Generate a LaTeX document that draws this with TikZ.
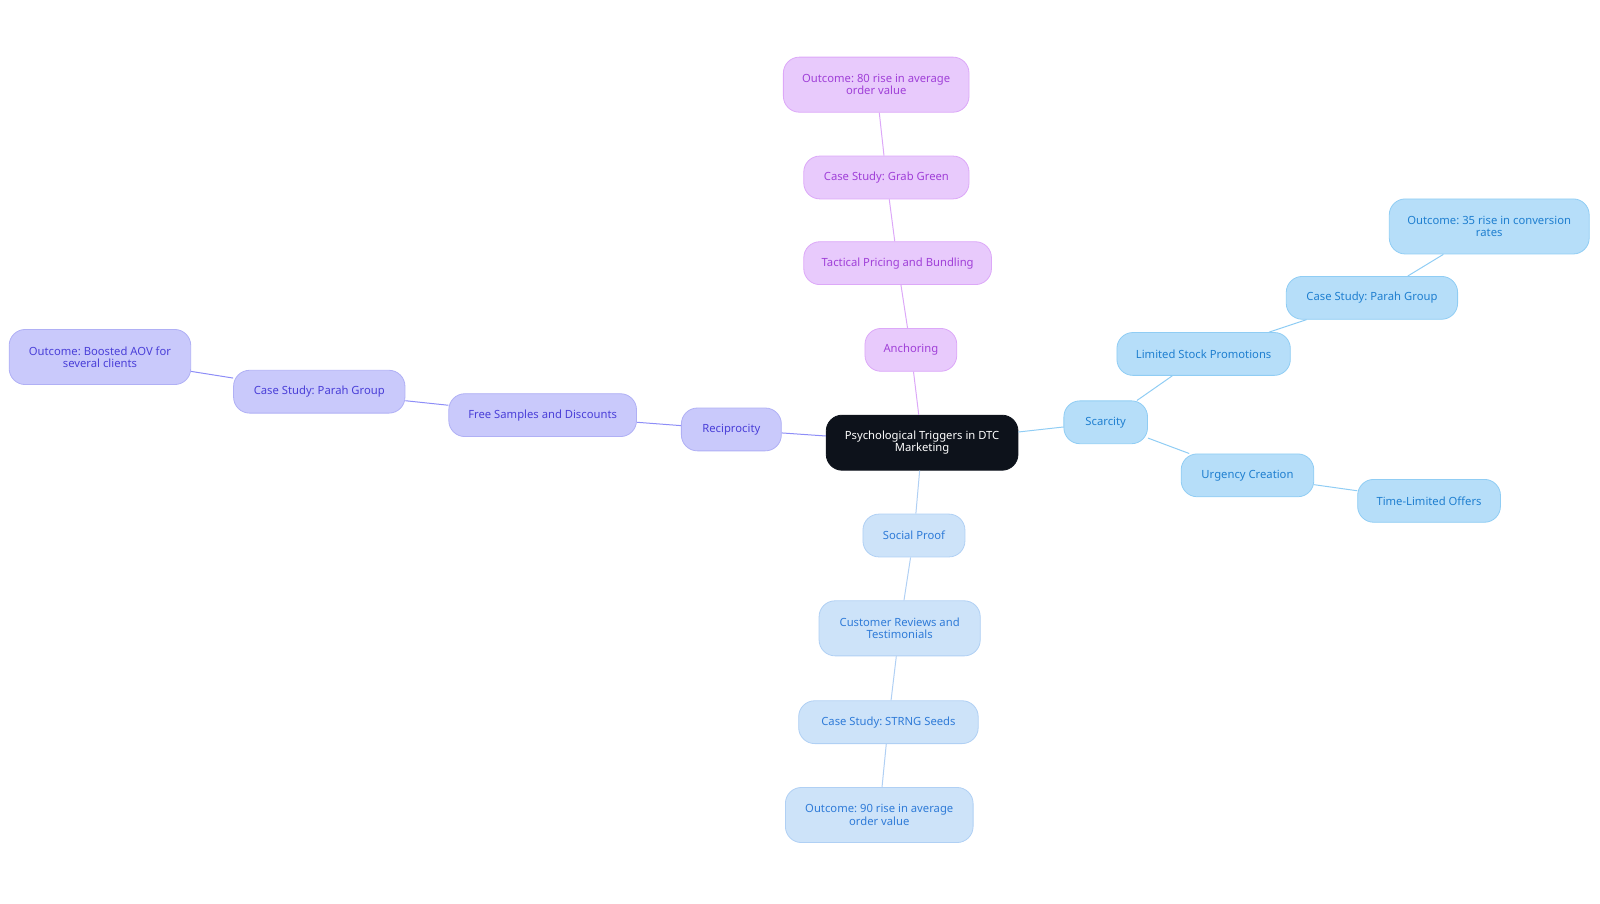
\documentclass[tikz,border=0pt]{standalone}
\usepackage{fontspec}
\setmainfont{Noto Sans}
\begin{document}
\frenchspacing
\begin{tikzpicture}[x=1.02bp,y=-1.02bp,
 base/.style={rounded corners=16bp,draw,line width=0.8bp,align=center,font=\fontsize{11.3}{12.3}\selectfont,inner sep=0pt},
 root/.style={base,fill=rootc,draw=rootc,text=white},
 pur/.style={base,fill=purf,draw=purb,text=purt},
 vio/.style={base,fill=viof,draw=viob,text=viot},
 sky/.style={base,fill=skyf,draw=skyb,text=skyt},
 soc/.style={base,fill=socf,draw=socb,text=soct},
 e/.style={line width=1bp}]
\definecolor{rootc}{HTML}{0D121B}
\definecolor{purf}{HTML}{E8CAFC}\definecolor{purb}{HTML}{DCA8F8}\definecolor{purt}{HTML}{A040D8}
\definecolor{viof}{HTML}{C9C9FB}\definecolor{viob}{HTML}{B0B0F5}\definecolor{viot}{HTML}{4A3FD8}
\definecolor{skyf}{HTML}{B6DEF9}\definecolor{skyb}{HTML}{90CDF4}\definecolor{skyt}{HTML}{1F7FD0}
\definecolor{socf}{HTML}{CDE3F9}\definecolor{socb}{HTML}{B0D0F4}\definecolor{soct}{HTML}{2F7BD8}
\useasboundingbox (0,0) rectangle (1568.6,885.3);
\newcommand\nd[7]{\node[#1,minimum width=1.02*#4bp,minimum height=1.02*#5bp] (#6) at (#2,#3) {#7};}
\nd{root}{904}{434}{188}{54}{r}{Psychological Triggers in DTC\\Marketing}
\nd{pur}{893}{343}{90}{42}{a}{Anchoring}
\nd{pur}{880}{258}{184}{42}{a1}{Tactical Pricing and Bundling}
\nd{pur}{869}{174}{162}{42}{a2}{Case Study: Grab Green}
\nd{pur}{859}{83}{182}{54}{a3}{Outcome: 80 rise in average\\order value}
\nd{vio}{717}{421}{98}{42}{b}{Reciprocity}
\nd{vio}{532}{407}{184}{42}{b1}{Free Samples and Discounts}
\nd{vio}{313}{384}{168}{42}{b2}{Case Study: Parah Group}
\nd{vio}{98}{350}{178}{54}{b3}{Outcome: Boosted AOV for\\several clients}
\nd{sky}{1084}{414}{82}{42}{c}{Scarcity}
\nd{sky}{1180}{347}{170}{42}{c1}{Limited Stock Promotions}
\nd{sky}{1345}{292}{168}{42}{c2}{Case Study: Parah Group}
\nd{sky}{1460}{222}{196}{54}{c3}{Outcome: 35 rise in conversion\\rates}
\nd{sky}{1223}{466}{130}{42}{c4}{Urgency Creation}
\nd{sky}{1401}{491}{140}{42}{c5}{Time-Limited Offers}
\nd{soc}{896}{525}{100}{42}{d}{Social Proof}
\nd{soc}{882}{616}{158}{54}{d1}{Customer Reviews and\\Testimonials}
\nd{soc}{871}{708}{176}{42}{d2}{Case Study: STRNG Seeds}
\nd{soc}{862}{799}{184}{54}{d3}{Outcome: 90 rise in average\\order value}
\draw[e,draw=purb] (r)--(a) (a)--(a1) (a1)--(a2) (a2)--(a3);
\draw[e,draw=viob!80!blue] (r)--(b) (b)--(b1) (b1)--(b2) (b2)--(b3);
\draw[e,draw=skyb] (r)--(c) (c)--(c1) (c1)--(c2) (c2)--(c3) (c)--(c4) (c4)--(c5);
\draw[e,draw=socb] (r)--(d) (d)--(d1) (d1)--(d2) (d2)--(d3);
\end{tikzpicture}
\end{document}
